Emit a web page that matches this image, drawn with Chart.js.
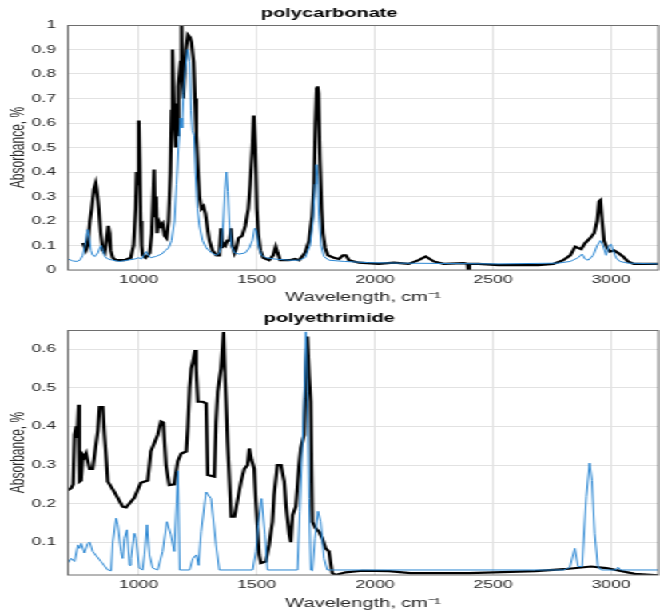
<!DOCTYPE html>
<html>
<head>
<meta charset="utf-8">
<script src="https://cdn.jsdelivr.net/npm/chart.js@4/dist/chart.umd.min.js"></script>
<style>
  html, body { margin: 0; padding: 0; background: #fff; overflow: hidden; }
  /* figure is drawn narrow and stretched sideways, like the exported MATLAB figure */
  #fig { position: absolute; left: 0; top: 0; width: 413px; height: 611px;
         transform: scaleX(1.598); transform-origin: 0 0; }
  canvas { display: block; }
</style>
</head>
<body>
<div id="fig">
  <canvas id="pcChart" width="413" height="305"></canvas>
  <canvas id="peiChart" width="413" height="306"></canvas>
</div>
<script>
// axis ticks
const waveTicks = [1000, 1500, 2000, 2500, 3000];
const pcTicks   = [0, 0.1, 0.2, 0.3, 0.4, 0.5, 0.6, 0.7, 0.8, 0.9, 1];
const peiTicks  = [0.1, 0.2, 0.3, 0.4, 0.5, 0.6];

// polycarbonate, measured spectrum (black)
const pcMeasWave = [763,768,776,784,793,801,810,818,822,831,839,848,856,864,871,877,881,890,903,940,966,978,987,991,995,1000,1004,1008,1012,1016,1029,1046,1055,1059,1065,1069,1074,1078,1084,1093,1101,1109,1118,1126,1134,1139,1143,1147,1151,1156,1160,1164,1168,1177,1181,1185,1189,1194,1200,1208,1217,1223,1232,1238,1244,1251,1257,1265,1274,1282,1291,1299,1312,1329,1341,1348,1352,1358,1367,1375,1384,1390,1396,1405,1413,1422,1438,1451,1464,1472,1481,1487,1494,1500,1506,1515,1527,1552,1569,1580,1588,1599,1637,1662,1679,1704,1721,1734,1742,1748,1753,1757,1761,1767,1774,1780,1789,1801,1826,1848,1864,1877,1890,1932,2016,2080,2143,2185,2215,2249,2291,2375,2392,2396,2400,2438,2523,2692,2755,2797,2827,2848,2860,2873,2890,2911,2928,2941,2949,2955,2962,2970,2983,2995,3012,3029,3050,3071,3096,3200];
const pcMeasAbs  = [0.11,0.10,0.08,0.10,0.20,0.25,0.33,0.355,0.33,0.25,0.15,0.08,0.07,0.12,0.18,0.15,0.08,0.05,0.04,0.04,0.05,0.10,0.25,0.40,0.35,0.61,0.45,0.20,0.10,0.06,0.05,0.07,0.15,0.25,0.41,0.22,0.30,0.15,0.20,0.18,0.19,0.14,0.13,0.20,0.40,0.65,0.90,0.75,0.60,0.50,0.68,0.55,0.75,0.85,1.00,0.75,0.70,0.80,0.90,0.96,0.95,0.93,0.85,0.70,0.55,0.40,0.30,0.25,0.26,0.23,0.17,0.12,0.08,0.06,0.06,0.17,0.09,0.11,0.10,0.12,0.12,0.17,0.10,0.07,0.09,0.13,0.14,0.18,0.25,0.35,0.50,0.63,0.50,0.25,0.15,0.08,0.05,0.04,0.06,0.095,0.07,0.04,0.04,0.045,0.04,0.07,0.12,0.22,0.35,0.60,0.74,0.75,0.72,0.45,0.25,0.15,0.09,0.06,0.05,0.045,0.06,0.06,0.04,0.03,0.025,0.03,0.025,0.04,0.055,0.035,0.025,0.028,0.025,-0.015,0.025,0.025,0.02,0.02,0.025,0.04,0.06,0.095,0.09,0.085,0.11,0.13,0.15,0.20,0.28,0.285,0.20,0.12,0.09,0.075,0.08,0.07,0.055,0.035,0.025,0.025];

// polycarbonate, reference spectrum (blue)
const pcRefWave = [700,721,738,751,763,772,780,784,791,797,805,814,827,835,841,848,856,869,890,919,953,983,1000,1012,1021,1032,1040,1050,1071,1097,1113,1126,1139,1151,1160,1168,1177,1183,1189,1198,1206,1215,1221,1227,1234,1240,1248,1257,1270,1286,1308,1329,1341,1350,1358,1365,1371,1377,1384,1392,1405,1426,1451,1468,1481,1491,1498,1506,1519,1540,1574,1637,1679,1704,1725,1738,1746,1752,1757,1763,1772,1784,1805,1869,1974,2101,2523,2776,2827,2860,2877,2890,2903,2924,2941,2955,2966,2979,2991,3000,3008,3021,3037,3071,3200];
const pcRefAbs  = [0.045,0.037,0.035,0.04,0.06,0.10,0.15,0.165,0.13,0.08,0.06,0.055,0.07,0.09,0.10,0.08,0.055,0.045,0.04,0.035,0.04,0.045,0.05,0.045,0.06,0.075,0.06,0.05,0.055,0.065,0.08,0.09,0.12,0.20,0.35,0.50,0.62,0.58,0.72,0.82,0.90,0.85,0.65,0.57,0.55,0.40,0.25,0.18,0.12,0.09,0.07,0.06,0.07,0.10,0.20,0.33,0.40,0.32,0.18,0.10,0.07,0.065,0.07,0.09,0.12,0.17,0.16,0.10,0.06,0.05,0.045,0.04,0.04,0.05,0.10,0.20,0.35,0.43,0.38,0.22,0.10,0.055,0.04,0.035,0.03,0.028,0.025,0.028,0.035,0.05,0.065,0.045,0.04,0.06,0.10,0.12,0.10,0.06,0.10,0.105,0.08,0.05,0.035,0.028,0.025];

// polyethrimide, measured spectrum (black)
const peiMeasWave = [700,714,722,728,735,739,745,749,756,763,770,777,792,805,827,834,848,855,869,897,932,946,981,1009,1038,1051,1080,1094,1104,1115,1129,1150,1165,1180,1201,1208,1215,1222,1229,1239,1243,1250,1271,1285,1292,1320,1327,1334,1348,1359,1365,1376,1391,1405,1433,1447,1461,1468,1478,1489,1496,1510,1517,1538,1552,1566,1573,1587,1602,1616,1623,1637,1644,1651,1665,1679,1686,1700,1707,1714,1721,1728,1735,1749,1763,1777,1791,1805,1819,1833,1876,1946,2059,2150,2400,2679,2800,2915,2980,3100,3200];
const peiMeasAbs  = [0.235,0.24,0.25,0.378,0.40,0.37,0.456,0.257,0.26,0.326,0.32,0.33,0.29,0.29,0.39,0.45,0.45,0.378,0.257,0.23,0.192,0.19,0.215,0.254,0.26,0.335,0.378,0.413,0.41,0.30,0.248,0.25,0.31,0.33,0.335,0.40,0.50,0.55,0.568,0.598,0.55,0.464,0.464,0.46,0.274,0.27,0.41,0.49,0.55,0.645,0.53,0.36,0.166,0.166,0.257,0.29,0.30,0.343,0.313,0.29,0.205,0.067,0.046,0.05,0.093,0.153,0.222,0.30,0.30,0.257,0.197,0.119,0.10,0.17,0.192,0.30,0.344,0.378,0.533,0.633,0.533,0.464,0.153,0.136,0.127,0.11,0.084,0.076,0.02,0.015,0.022,0.026,0.025,0.02,0.02,0.025,0.03,0.037,0.033,0.018,0.014];

// polyethrimide, reference spectrum (blue)
const peiRefWave = [700,714,728,742,749,756,770,784,792,805,840,869,883,890,904,911,925,932,939,950,961,967,981,988,1002,1016,1024,1035,1045,1059,1080,1101,1119,1136,1150,1160,1166,1173,1215,1229,1243,1253,1264,1285,1306,1327,1341,1482,1496,1506,1520,1534,1545,1672,1682,1693,1700,1707,1714,1721,1728,1735,1746,1759,1770,1784,1798,2800,2825,2846,2860,2877,2895,2909,2919,2930,2944,2958,3020,3029,3040,3200];
const peiRefAbs  = [0.046,0.058,0.05,0.093,0.084,0.097,0.072,0.097,0.10,0.076,0.05,0.028,0.026,0.10,0.162,0.145,0.076,0.058,0.11,0.132,0.04,0.058,0.123,0.11,0.033,0.028,0.067,0.145,0.067,0.033,0.028,0.076,0.153,0.119,0.076,0.20,0.285,0.028,0.028,0.058,0.067,0.04,0.127,0.23,0.213,0.093,0.028,0.028,0.076,0.145,0.213,0.119,0.028,0.028,0.18,0.352,0.473,0.645,0.49,0.213,0.028,0.026,0.11,0.18,0.153,0.058,0.028,0.028,0.035,0.084,0.037,0.037,0.218,0.305,0.26,0.123,0.037,0.028,0.028,0.035,0.028,0.028];

const FONT = "'Liberation Sans', Arial, Helvetica, sans-serif";
const TEXT = '#262626';
const pts = (xs, ys) => xs.map((x, i) => ({ x, y: ys[i] }));

// closed box around the axes
const boxPlugin = {
  id: 'axesBox',
  afterDraw(chart) {
    const { ctx, chartArea: a } = chart;
    ctx.save();
    ctx.strokeStyle = '#6e6e6e';
    ctx.lineWidth = 1;
    ctx.strokeRect(a.left, a.top + 0.5, a.right - a.left, a.bottom - a.top - 0.5);
    ctx.restore();
  }
};

function spectrumChart(canvasId, title, meas, ref, yMin, yMax, yTicks, xAxisH) {
  return new Chart(document.getElementById(canvasId), {
    type: 'line',
    data: {
      datasets: [
        { data: ref,  borderColor: '#2a86d2', borderWidth: 1,   pointRadius: 0, tension: 0, order: 0 },
        { data: meas, borderColor: '#000000', borderWidth: 2.2, pointRadius: 0, tension: 0, order: 1 }
      ]
    },
    options: {
      responsive: false,
      animation: false,
      layout: { padding: { left: 0, right: 1, top: 0, bottom: 0 } },
      plugins: {
        legend: { display: false },
        tooltip: { enabled: false },
        title: {
          display: true, text: title, color: '#000',
          font: { family: FONT, size: 12.5, weight: 'bold' },
          padding: { top: 6.5, bottom: 3.5 }
        }
      },
      scales: {
        x: {
          type: 'linear', min: 700, max: 3200,
          afterBuildTicks: s => { s.ticks = waveTicks.map(v => ({ value: v })); },
          afterFit: s => { s.height = xAxisH; },
          grid: { color: '#e2e2e2', drawTicks: false },
          border: { display: false },
          ticks: { color: TEXT, font: { family: FONT, size: 11 }, padding: 3, maxRotation: 0, callback: v => String(v) },
          title: { display: true, text: 'Wavelength, cm\u207B\u00B9', color: TEXT,
                   font: { family: FONT, size: 12.5 }, padding: { top: 0, bottom: 0 } }
        },
        y: {
          min: yMin, max: yMax,
          afterBuildTicks: s => { s.ticks = yTicks.map(v => ({ value: v })); },
          afterFit: s => { s.width = 42.5; },
          grid: { color: '#e2e2e2', drawTicks: false },
          border: { display: false },
          ticks: { color: TEXT, font: { family: FONT, size: 11 }, padding: 7.5, callback: v => String(v) },
          title: { display: true, text: 'Absorbance, %', color: TEXT,
                   font: { family: FONT, size: 12 }, padding: { top: 4, bottom: 0 } }
        }
      }
    },
    plugins: [boxPlugin]
  });
}

spectrumChart('pcChart', 'polycarbonate',
  pts(pcMeasWave, pcMeasAbs), pts(pcRefWave, pcRefAbs), 0, 1, pcTicks, 35);
spectrumChart('peiChart', 'polyethrimide',
  pts(peiMeasWave, peiMeasAbs), pts(peiRefWave, peiRefAbs), 0.015, 0.65, peiTicks, 36);
</script>
</body>
</html>
